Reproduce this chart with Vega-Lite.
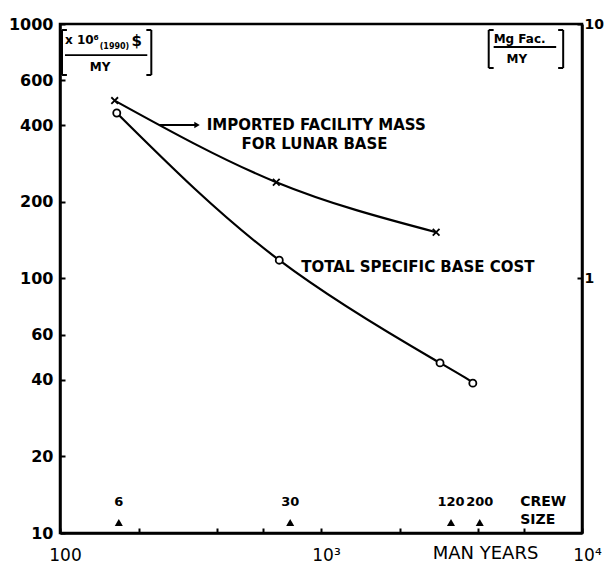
{
  "$schema": "https://vega.github.io/schema/vega-lite/v6.json",
  "autosize": "none",
  "width": 522,
  "height": 509,
  "padding": {"left": 60, "top": 24, "right": 22, "bottom": 32},
  "background": "white",
  "config": {
    "view": {"stroke": "black", "strokeWidth": 2.5},
    "font": "DejaVu Sans",
    "axis": {
      "grid": false,
      "domainColor": "black",
      "domainWidth": 2.5,
      "tickColor": "black",
      "tickWidth": 2,
      "labelColor": "black",
      "labelFont": "DejaVu Sans",
      "labelFontWeight": "bold",
      "labelFontSize": 16,
      "labelOverlap": false,
      "labelFlush": false
    }
  },
  "datasets": {
    "mass": [
      {"my": 162, "v": 500},
      {"my": 674, "v": 239},
      {"my": 2761, "v": 152}
    ],
    "cost": [
      {"my": 165, "v": 447},
      {"my": 692, "v": 118},
      {"my": 2858, "v": 46.6},
      {"my": 3817, "v": 38.8}
    ],
    "crew_labels": [
      {"my": 168, "v": 13.2, "crew": "6"},
      {"my": 762, "v": 13.2, "crew": "30"},
      {"my": 3148, "v": 13.2, "crew": "120"},
      {"my": 4057, "v": 13.2, "crew": "200"}
    ],
    "crew_marks": [
      {"my": 168, "v": 11},
      {"my": 762, "v": 11},
      {"my": 3148, "v": 11},
      {"my": 4057, "v": 11}
    ],
    "notes": [
      {"my": 365, "v": 401, "text": "IMPORTED FACILITY MASS"},
      {"my": 496, "v": 338, "text": "FOR LUNAR BASE"},
      {"my": 840, "v": 111, "text": "TOTAL SPECIFIC BASE COST"}
    ],
    "crew_title": [
      {"my": 5800, "v": 13.2, "text": "CREW"},
      {"my": 5800, "v": 11.2, "text": "SIZE"}
    ],
    "units": [
      {"my": 104.5, "v": 865, "text": "x 10⁶"},
      {"my": 130, "v": 678, "text": "MY"},
      {"my": 4587, "v": 873, "text": "Mg Fac."},
      {"my": 5140, "v": 729, "text": "MY"}
    ],
    "units_dollar": [
      {"my": 187.8, "v": 857, "text": "$"}
    ],
    "units_small": [
      {"my": 141.9, "v": 812, "text": "(1990)"}
    ],
    "bars": [
      {"my": 104.5, "my2": 216, "v": 755},
      {"my": 4587, "my2": 7963, "v": 812}
    ],
    "bracket_v": [
      {"my": 101.8, "v": 947, "v2": 630.5},
      {"my": 223.8, "v": 947, "v2": 630.5},
      {"my": 4391, "v": 947, "v2": 671.7},
      {"my": 8470, "v": 947, "v2": 671.7}
    ],
    "bracket_h": [
      {"my": 101.8, "my2": 106.3, "v": 947},
      {"my": 101.8, "my2": 106.3, "v": 630.5},
      {"my": 214.2, "my2": 223.8, "v": 947},
      {"my": 214.2, "my2": 223.8, "v": 630.5},
      {"my": 4391, "my2": 4587, "v": 947},
      {"my": 4391, "my2": 4587, "v": 671.7},
      {"my": 8102, "my2": 8470, "v": 947},
      {"my": 8102, "my2": 8470, "v": 671.7}
    ],
    "arrow": [
      {"my": 240, "my2": 335, "v": 401}
    ]
  },
  "encoding": {
    "x": {
      "field": "my",
      "type": "quantitative",
      "scale": {"type": "log", "domain": [100, 10000], "nice": false},
      "axis": {
        "values": [100, 200, 400, 600, 1000, 2000, 4000, 6000, 10000],
        "labelExpr": "datum.value == 100 ? '100' : datum.value == 1000 ? '10³' : datum.value == 10000 ? '10⁴' : ''",
        "tickSize": -5,
        "labelPadding": 19,
        "labelOffset": 5,
        "labelFontWeight": "normal",
        "labelFontSize": 17,
        "title": "MAN YEARS",
        "titleFont": "DejaVu Sans",
        "titleFontWeight": "normal",
        "titleFontSize": 18,
        "titleColor": "black",
        "titleX": 425,
        "titleY": 20,
        "titleAlign": "center",
        "titleBaseline": "middle"
      }
    },
    "y": {
      "field": "v",
      "type": "quantitative",
      "scale": {"type": "log", "domain": [10, 1000], "nice": false},
      "axis": null
    }
  },
  "layer": [
    {
      "data": {"name": "mass"},
      "mark": {"type": "line", "color": "black", "strokeWidth": 2.2, "interpolate": "natural"},
      "encoding": {
        "y": {
          "field": "v",
          "type": "quantitative",
          "axis": {
            "orient": "left",
            "values": [10, 20, 40, 60, 100, 200, 400, 600, 1000],
            "labelExpr": "'' + datum.value",
            "tickSize": -5,
            "labelPadding": 12,
            "title": null
          }
        }
      }
    },
    {
      "data": {"name": "mass"},
      "mark": {"type": "point", "shape": "M-1,-1L1,1M1,-1L-1,1", "filled": false, "stroke": "black", "strokeWidth": 1.8, "size": 45, "opacity": 1}
    },
    {
      "data": {"name": "cost"},
      "mark": {"type": "line", "color": "black", "strokeWidth": 2.2, "interpolate": "natural"},
      "encoding": {
        "y": {
          "field": "v",
          "type": "quantitative",
          "axis": {
            "orient": "right",
            "values": [100, 1000],
            "labelExpr": "datum.value == 1000 ? '10' : '1'",
            "tickSize": -5,
            "labelPadding": 7,
            "labelFontSize": 14,
            "title": null
          }
        }
      }
    },
    {
      "data": {"name": "cost"},
      "mark": {"type": "point", "shape": "circle", "filled": true, "fill": "white", "stroke": "black", "strokeWidth": 1.8, "size": 50, "opacity": 1}
    },
    {
      "data": {"name": "crew_marks"},
      "mark": {"type": "point", "shape": "triangle-up", "filled": true, "color": "black", "size": 65, "opacity": 1}
    },
    {
      "data": {"name": "crew_labels"},
      "mark": {"type": "text", "fontSize": 13, "fontWeight": "bold", "color": "black", "baseline": "middle"},
      "encoding": {"text": {"field": "crew"}}
    },
    {
      "data": {"name": "crew_title"},
      "mark": {"type": "text", "fontSize": 14, "fontWeight": "bold", "color": "black", "align": "left", "baseline": "middle"},
      "encoding": {"text": {"field": "text"}}
    },
    {
      "data": {"name": "notes"},
      "mark": {"type": "text", "fontSize": 15, "fontWeight": "bold", "color": "black", "align": "left", "baseline": "middle"},
      "encoding": {"text": {"field": "text"}}
    },
    {
      "data": {"name": "units"},
      "mark": {"type": "text", "fontSize": 12, "fontWeight": "bold", "color": "black", "align": "left", "baseline": "middle"},
      "encoding": {"text": {"field": "text"}}
    },
    {
      "data": {"name": "units_dollar"},
      "mark": {"type": "text", "fontSize": 15, "fontWeight": "bold", "color": "black", "align": "left", "baseline": "middle"},
      "encoding": {"text": {"field": "text"}}
    },
    {
      "data": {"name": "units_small"},
      "mark": {"type": "text", "fontSize": 8, "fontWeight": "bold", "color": "black", "align": "left", "baseline": "middle"},
      "encoding": {"text": {"field": "text"}}
    },
    {
      "data": {"name": "bars"},
      "mark": {"type": "rule", "color": "black", "strokeWidth": 1.8},
      "encoding": {"x2": {"field": "my2"}}
    },
    {
      "data": {"name": "bracket_v"},
      "mark": {"type": "rule", "color": "black", "strokeWidth": 2},
      "encoding": {"y2": {"field": "v2"}}
    },
    {
      "data": {"name": "bracket_h"},
      "mark": {"type": "rule", "color": "black", "strokeWidth": 2},
      "encoding": {"x2": {"field": "my2"}}
    },
    {
      "data": {"name": "arrow"},
      "mark": {"type": "rule", "color": "black", "strokeWidth": 2},
      "encoding": {"x2": {"field": "my2"}}
    },
    {
      "data": {"name": "arrow"},
      "mark": {"type": "point", "shape": "triangle-right", "filled": true, "color": "black", "size": 40, "opacity": 1},
      "encoding": {"x": {"field": "my2", "type": "quantitative"}}
    }
  ],
  "resolve": {"axis": {"y": "independent"}}
}
